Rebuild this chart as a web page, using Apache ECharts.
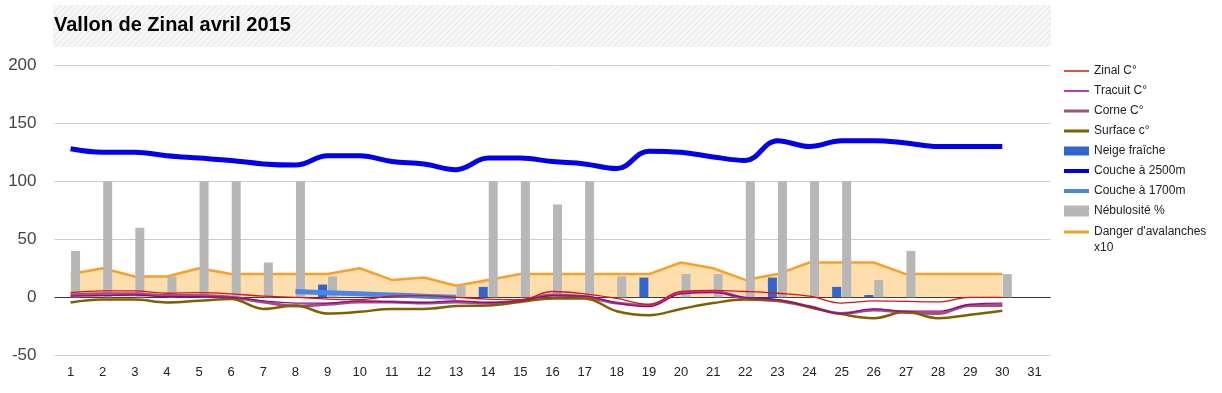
<!DOCTYPE html>
<html><head><meta charset="utf-8">
<script src="https://cdn.jsdelivr.net/npm/echarts@6/dist/echarts.min.js"></script>
<style>html,body{margin:0;padding:0;background:#fff}#c{width:1222px;height:393px}</style>
</head><body><div id="c"></div>
<script>
const titleText = 'Vallon de Zinal avril 2015';
const days = ['1','2','3','4','5','6','7','8','9','10','11','12','13','14','15','16','17','18','19','20','21','22','23','24','25','26','27','28','29','30','31'];
const zinal    = [4, 5.5, 5.5, 3.5, 4, 3, 1, 0, -1.5, -2, 1, 1.5, 0, -1.5, -2, 5, 3, -1, -6, 5, 6, 5, 3.5, 1, -5, -3, -3.5, -4, 0, 0];
const tracuit  = [1, 1.5, 2, 0.5, 0.5, 0, -3, -5, -5, -3, -4, -4.5, -3, -4.5, -3, 1.5, 1, -5, -8, 3, 4, 0, -2, -8, -14, -10, -12, -12, -6, -5];
const corne    = [2, 3, 3, 1.5, 1.5, 0, -4, -7.5, -6, -4, -4, -5, -4, -5, -3, 2, 0.5, -5, -7, 4, 5, -1, -3, -8, -14, -11, -13, -14, -7, -7];
const surface  = [-4.5, -2, -2, -4.5, -3, -1.5, -10, -7, -14, -12.5, -10, -10, -7.5, -7, -4, -1, -1, -12, -15.5, -10, -5, -2, -2.5, -8.5, -14.5, -18, -12.5, -18, -15, -11.5];
const neige    = [null, null, null, null, null, null, null, null, 11, null, null, null, null, 9, null, null, null, null, 17, null, null, null, 17, null, 9, 2, null, null, null, null];
const couche2500 = [128, 125, 125, 122, 120, 118, 115, 114, 122, 122, 117, 115, 110, 120, 120, 117, 115, 111, 126, 125, 121, 118, 135, 130, 135, 135, 133, 130, 130, 130];
const couche1700 = [null, null, null, null, null, null, null, 5, 4, 3, 2, 1, 0, null, null, null, null, null, null, null, null, null, null, null, null, null, null, null, null, null];
const nebulosite = [40, 100, 60, 18, 100, 100, 30, 100, 18, null, null, null, 10, 100, 100, 80, 100, 18, null, 20, 20, 100, 100, 100, 100, 15, 40, null, null, 20];
const danger   = [20, 25, 18, 18, 25, 20, 20, 20, 20, 25, 15, 17, 10, 15, 20, 20, 20, 20, 20, 30, 25, 15, 20, 30, 30, 30, 20, 20, 20, 20];
const yTicks = [-50, 0, 50, 100, 150, 200];

const N = {
  zinal: 'Zinal C°', tracuit: 'Tracuit C°', corne: 'Corne C°', surface: 'Surface c°',
  neige: 'Neige fraîche', c2500: 'Couche à 2500m', c1700: 'Couche à 1700m',
  neb: 'Nébulosité %', danger: "Danger d'avalanches x10"
};

// hatched pattern for title band
const pc = document.createElement('canvas');
pc.width = 6; pc.height = 6;
const pctx = pc.getContext('2d');
pctx.fillStyle = '#f6f6f6'; pctx.fillRect(0, 0, 6, 6);
pctx.strokeStyle = '#e6e6e6'; pctx.lineWidth = 1;
pctx.beginPath();
pctx.moveTo(0, 6); pctx.lineTo(6, 0);
pctx.moveTo(-3, 3); pctx.lineTo(3, -3);
pctx.moveTo(3, 9); pctx.lineTo(9, 3);
pctx.stroke();

const font = 'Arial, "Liberation Sans", sans-serif';
const bandIcon = h => 'path://M0,0h25v' + h + 'h-25z';
const lineSeries = (name, data, color, width, smooth, z) => ({
  name, type: 'line', data, smooth, symbol: 'none', z: z || 3,
  lineStyle: { color, width }, itemStyle: { color }, connectNulls: false
});

const legendText = { fontFamily: font, fontSize: 12, color: '#222', lineHeight: 16 };

const chart = echarts.init(document.getElementById('c'), null, { renderer: 'canvas' });
chart.setOption({
  animation: false,
  textStyle: { fontFamily: font },
  title: {
    text: titleText, left: 54, top: 15, padding: 0,
    textStyle: { fontFamily: font, fontSize: 20, fontWeight: 'bold', color: '#000' }
  },
  graphic: [{
    type: 'rect', z: -10, silent: true,
    shape: { x: 53, y: 5, width: 998, height: 42 },
    style: { fill: { image: pc, repeat: 'repeat' } }
  }],
  legend: [{
    orient: 'vertical', left: 1064, top: 63, padding: 0, itemWidth: 25, itemHeight: 11, itemGap: 4,
    symbolKeepAspect: true, textStyle: legendText,
    data: [
      { name: N.zinal, icon: bandIcon(1.5) }, { name: N.tracuit, icon: bandIcon(1.5) },
      { name: N.corne, icon: bandIcon(3) }, { name: N.surface, icon: bandIcon(3) },
      { name: N.neige, icon: bandIcon(9) }, { name: N.c2500, icon: bandIcon(4) },
      { name: N.c1700, icon: bandIcon(4) }, { name: N.neb, icon: bandIcon(11) }
    ]
  }, {
    orient: 'vertical', left: 1064, top: 208, padding: 0, itemWidth: 25, itemHeight: 11,
    symbolKeepAspect: true, textStyle: legendText,
    formatter: () => " \nDanger d'avalanches\nx10",
    data: [{ name: N.danger, icon: bandIcon(3) }]
  }],
  grid: { left: 54.5, right: 171.5, top: 65.3, bottom: 37.7, containLabel: false },
  xAxis: {
    type: 'category', data: days, boundaryGap: true,
    axisLine: { show: false }, axisTick: { show: false },
    axisLabel: { fontFamily: font, fontSize: 13, color: '#222', margin: 11, interval: 0 }
  },
  yAxis: {
    type: 'value', min: yTicks[0], max: yTicks[yTicks.length - 1], interval: 50,
    axisLine: { show: false }, axisTick: { show: false },
    axisLabel: { fontFamily: font, fontSize: 17, color: '#444', margin: 18 },
    splitLine: { show: true, lineStyle: { color: ['#cccccc', '#333333', '#cccccc', '#cccccc', '#cccccc', '#cccccc'], width: 1 } }
  },
  series: [
    lineSeries(N.zinal, zinal, '#dd1111', 1.3, 0.4, 6),
    lineSeries(N.tracuit, tracuit, '#990099', 1.3, 0.4, 5),
    lineSeries(N.corne, corne, '#a64d79', 3, 0.4, 4),
    lineSeries(N.surface, surface, '#7f6000', 2.5, 0.4, 4),
    { name: N.neige, type: 'bar', data: neige, barWidth: 9, barGap: '11%', z: 2,
      itemStyle: { color: '#3366cc' } },
    lineSeries(N.c2500, couche2500, '#0000ee', 5, 0.4, 4),
    lineSeries(N.c1700, couche1700, '#4a86e8', 5, 0.3, 4),
    { name: N.neb, type: 'bar', data: nebulosite, barWidth: 9, barGap: '11%', z: 2,
      itemStyle: { color: '#b7b7b7' } },
    { name: N.danger, type: 'line', data: danger, smooth: false, symbol: 'none', z: 1,
      lineStyle: { color: '#f7a02a', width: 2.5 }, itemStyle: { color: '#f7a02a' },
      areaStyle: { color: '#ff9900', opacity: 0.32, origin: 0 } }
  ]
});
</script>
</body></html>
